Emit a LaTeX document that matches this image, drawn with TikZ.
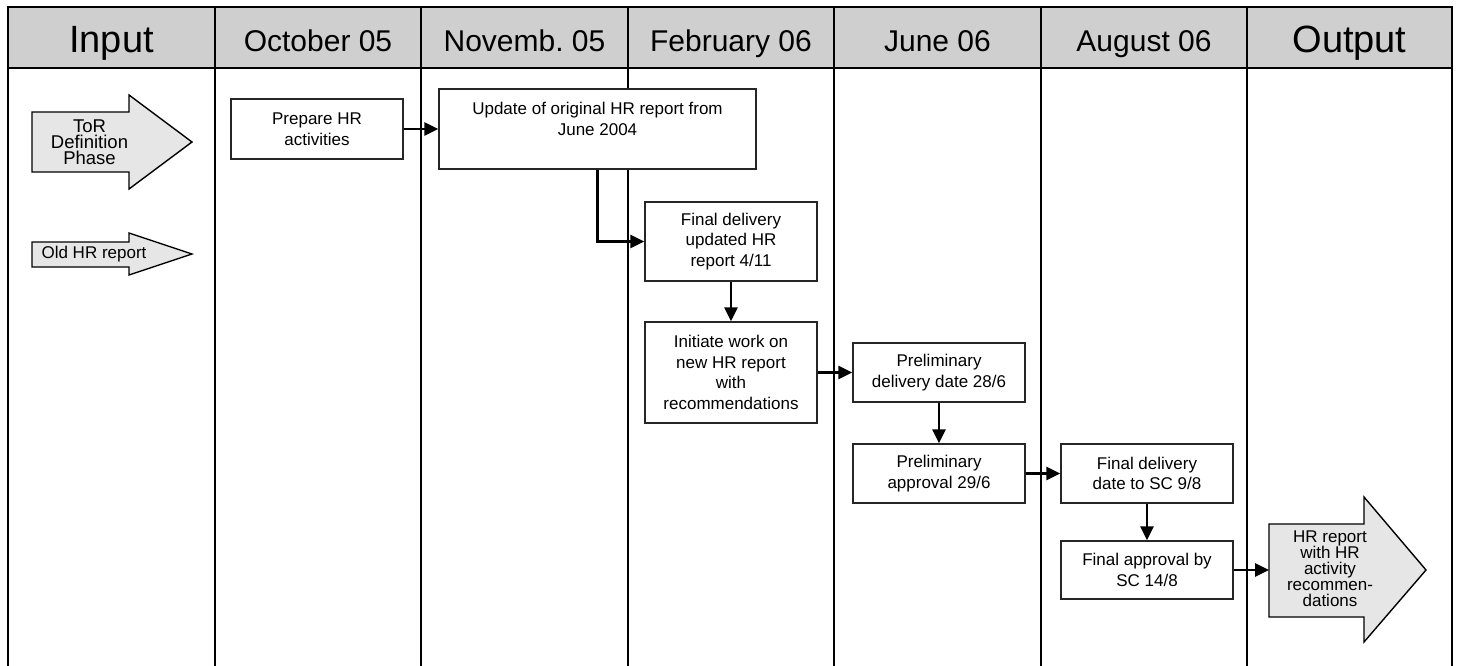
\documentclass[tikz,border=0pt]{standalone}
\usepackage{fontspec}
\setmainfont{Liberation Sans}
\usetikzlibrary{arrows.meta}
\definecolor{headgray}{HTML}{CFCFCF}
\definecolor{arrowgray}{HTML}{E6E6E6}
\frenchspacing
\begin{document}
\begin{tikzpicture}[x=1pt,y=-1pt,
  stepbox/.style={draw=black!85,line width=1.4pt,fill=white,inner sep=0pt,
    minimum width=172pt,align=center,font=\fontsize{17}{20.5}\selectfont},
  flow/.style={line width=2.7pt,-{Triangle[length=14pt,width=13pt]}},
  lane/.style={line width=2.6pt},
  blockarrow/.style={draw=black,line width=1.4pt,fill=arrowgray,line join=miter},
  arrowtext/.style={align=center,inner sep=0pt,font=\fontsize{17}{16}\selectfont},
  headtext/.style={anchor=base,inner sep=0pt,font=\fontsize{30}{34}\selectfont},
  headbig/.style={headtext,font=\fontsize{38}{40}\selectfont},
  ]
\useasboundingbox (0,0) rectangle (1461,666);

% header band and swim lanes
\filldraw[fill=headgray,lane] (8,7) rectangle (1452,68);
\foreach \lx in {8,215,421,628,834,1041,1247,1452}
  \draw[lane] (\lx,7) -- (\lx,666);

\node[headbig]  (hinput) at (111.5,53) {Input};
\node[headtext] (hoct)   at (318,51.5)   {October 05};
\node[headtext] (hnov)   at (524.5,51.5) {Novemb.\ 05};
\node[headtext] (hfeb)   at (731,51.5)   {February 06};
\node[headtext] (hjun)   at (937.5,51.5) {June 06};
\node[headtext] (haug)   at (1144,51.5)  {August 06};
\node[headbig]  (houtput) at (1349.5,53) {Output};

% input block arrows
\filldraw[blockarrow] (32,112) -- (129,112) -- (129,95) -- (192,142)
  -- (129,189) -- (129,172) -- (32,172) -- cycle;
\node[arrowtext,font=\fontsize{18.5}{16}\selectfont] (tor) at (89.5,142)
  {ToR\\Definition\\Phase};

\filldraw[blockarrow] (32,242) -- (129,242) -- (129,233) -- (192,254)
  -- (129,275) -- (129,267) -- (32,267) -- cycle;
\node[arrowtext] (oldhr) at (94,254.5) {Old HR report};

% output block arrow
\filldraw[blockarrow] (1269,524) -- (1364,524) -- (1364,497) -- (1426,570)
  -- (1364,642) -- (1364,617) -- (1269,617) -- cycle;
\node[arrowtext] (hrout) at (1330,569) {HR report\\with HR\\activity\\recommen-\\dations};
\coordinate (hrin) at (1269,570);

% process steps
\node[stepbox,minimum height=60pt] (prep) at (317,129) {Prepare HR\\activities};
\node[stepbox,minimum width=317pt,minimum height=80pt] (upd) at (597.5,129)
  {Update of original HR report from\\June 2004\\\mbox{}};
\node[stepbox,minimum height=79pt] (fdel) at (731,241.5)
  {Final delivery\\updated HR\\report 4/11};
\node[stepbox,minimum height=101pt] (init) at (731,372.5)
  {Initiate work on\\new HR report\\with\\recommendations};
\node[stepbox,minimum height=59pt] (pdel) at (939,372.5)
  {Preliminary\\delivery date 28/6};
\node[stepbox,minimum height=59pt] (pappr) at (939,473.5)
  {Preliminary\\approval 29/6};
\node[stepbox,minimum height=59pt] (fdd) at (1147,473.5)
  {Final delivery\\date to SC 9/8};
\node[stepbox,minimum height=58pt] (fappr) at (1147,570)
  {Final approval by\\SC 14/8};

% connectors
\draw[flow] (prep.east) -- (upd.west);
\draw[flow] (upd.south) |- (fdel.west);
\draw[flow] (fdel.south) -- (init.north);
\draw[flow] (init.east) -- (pdel.west);
\draw[flow] (pdel.south) -- (pappr.north);
\draw[flow] (pappr.east) -- (fdd.west);
\draw[flow] (fdd.south) -- (fappr.north);
\draw[flow] (fappr.east) -- (hrin);
\end{tikzpicture}
\end{document}
